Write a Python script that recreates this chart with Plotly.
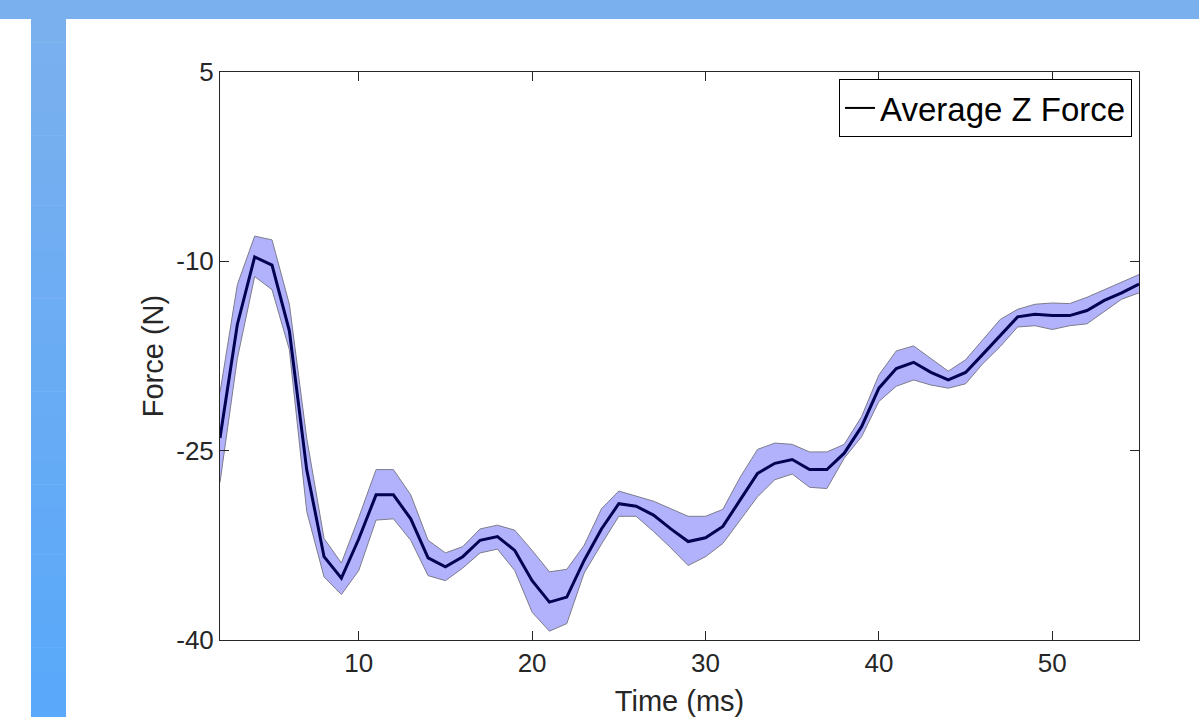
import plotly.graph_objects as go

time_ms = list(range(2, 56))
mean_force = [-24.0, -15.0, -9.65, -10.3, -15.5, -26.5, -33.4, -35.1, -32.0, -28.5,
              -28.5, -30.4, -33.5, -34.2, -33.4, -32.1, -31.8, -32.9, -35.3, -37.0,
              -36.6, -33.7, -31.2, -29.2, -29.4, -30.1, -31.2, -32.2, -31.9, -31.0,
              -28.9, -26.8, -26.0, -25.7, -26.5, -26.5, -25.2, -23.1, -20.05, -18.5,
              -18.0, -18.8, -19.4, -18.8, -17.35, -15.9, -14.4, -14.2, -14.3, -14.3,
              -13.9, -13.1, -12.5, -11.8]
upper_force = [-20.4, -11.85, -8.0, -8.3, -13.4, -24.0, -31.95, -33.9, -30.3, -26.5,
               -26.5, -28.5, -32.1, -33.1, -32.6, -31.2, -30.9, -31.3, -32.9, -34.6,
               -34.4, -32.5, -29.6, -28.2, -28.6, -29.0, -29.6, -30.2, -30.2, -29.65,
               -27.1, -24.9, -24.4, -24.5, -25.1, -25.1, -24.5, -22.3, -19.0, -17.1,
               -16.7, -17.7, -18.7, -17.8, -16.2, -14.6, -13.8, -13.4, -13.3, -13.35,
               -12.85, -12.25, -11.7, -11.05]
lower_force = [-27.5, -17.7, -11.2, -12.25, -17.0, -29.8, -35.0, -36.4, -34.5, -30.5,
               -30.4, -32.1, -34.9, -35.3, -34.3, -33.1, -32.8, -34.5, -37.8, -39.3,
               -38.7, -34.7, -32.4, -30.2, -30.2, -31.4, -32.7, -34.1, -33.4, -32.35,
               -30.5, -28.65, -27.3, -26.85, -27.9, -28.0, -25.6, -23.9, -21.1, -19.9,
               -19.4, -19.8, -20.05, -19.7, -18.1, -16.75, -15.2, -15.1, -15.4, -15.1,
               -14.95, -14.0, -13.0, -12.5]

x_ticks = [10, 20, 30, 40, 50]
y_ticks = [-40, -25, -10, 5]

FONT = "Liberation Sans, Arial, Helvetica, sans-serif"
TXT = "#262626"

fig = go.Figure()
fig.add_trace(go.Scatter(x=time_ms, y=upper_force, mode="lines",
                         line=dict(color="#7c7c8c", width=1), showlegend=False,
                         hoverinfo="skip"))
fig.add_trace(go.Scatter(x=time_ms, y=lower_force, mode="lines", fill="tonexty",
                         fillcolor="rgb(178,178,252)",
                         line=dict(color="#7c7c8c", width=1), showlegend=False,
                         hoverinfo="skip"))
fig.add_trace(go.Scatter(x=time_ms, y=mean_force, mode="lines",
                         line=dict(color="#020252", width=3), showlegend=False))
fig.add_trace(go.Scatter(x=[None], y=[None], mode="lines", name="Average Z Force",
                         line=dict(color="black", width=2)))

# Decorative blue frame (top bar + left gradient bar)
shapes = [dict(type="rect", xref="paper", yref="paper", x0=-220/919, x1=1 + 60/919,
               y0=1 + 53/568, y1=1 + 72/568, line=dict(width=0), fillcolor="#7bb0ee",
               layer="below")]
n = 30
top_y, bot_y = 19, 717
c0 = (123, 176, 238)
c1 = (88, 168, 250)
for i in range(n):
    ya = top_y + (bot_y - top_y) * i / n
    yb = top_y + (bot_y - top_y) * (i + 1) / n + 0.5
    t = (i + 0.5) / n
    col = "rgb(%d,%d,%d)" % tuple(round(c0[k] + (c1[k] - c0[k]) * t) for k in range(3))
    shapes.append(dict(type="rect", xref="paper", yref="paper",
                       x0=(31 - 220) / 919, x1=(66 - 220) / 919,
                       y0=(640 - yb) / 568, y1=(640 - ya) / 568,
                       line=dict(width=0), fillcolor=col, layer="below"))

fig.update_layout(
    width=1199, height=717,
    margin=dict(l=220, r=60, t=72, b=77, autoexpand=False),
    paper_bgcolor="white", plot_bgcolor="white",
    font=dict(family=FONT, color=TXT),
    shapes=shapes,
    showlegend=True,
    legend=dict(x=0.9924, y=0.9877, xanchor="right", yanchor="top",
                bgcolor="white", bordercolor="black", borderwidth=1,
                font=dict(size=33, color="black", family=FONT),
                itemwidth=30, tracegroupgap=0),
)
fig.update_xaxes(range=[2, 55], tickvals=x_ticks, ticktext=[str(v) for v in x_ticks],
                 ticks="inside", ticklen=9, automargin=False,
                 tickcolor=TXT, showline=True, linecolor=TXT, linewidth=1,
                 mirror="ticks", showgrid=False, zeroline=False,
                 tickfont=dict(size=26, color=TXT),
                 title=dict(text="Time (ms)", font=dict(size=29, color=TXT), standoff=15))
fig.update_yaxes(range=[-40, 5], tickvals=y_ticks, ticktext=[str(v) for v in y_ticks],
                 ticks="inside", ticklen=9, automargin=False,
                 tickcolor=TXT, showline=True, linecolor=TXT, linewidth=1,
                 mirror="ticks", showgrid=False, zeroline=False,
                 tickfont=dict(size=26, color=TXT),
                 title=dict(text="Force (N)", font=dict(size=29, color=TXT), standoff=4))

fig.write_html("out.html", config={"displayModeBar": False},
               post_script="document.body.style.margin='0';document.body.style.overflow='hidden';")
